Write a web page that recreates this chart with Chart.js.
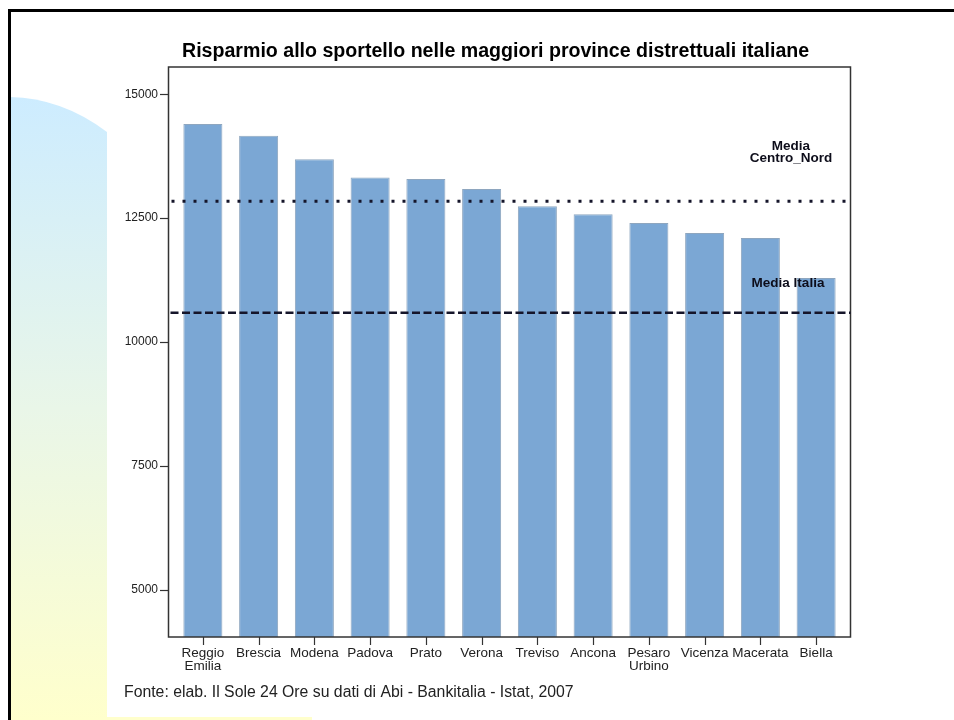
<!DOCTYPE html>
<html>
<head>
<meta charset="utf-8">
<script src="https://cdn.jsdelivr.net/npm/chart.js@4"></script>
<style>
html,body{margin:0;padding:0;background:#fff;}
canvas{display:block;}
</style>
</head>
<body>
<canvas id="c" width="954" height="720"></canvas>
<script>
const categories = [["Reggio","Emilia"],"Brescia","Modena","Padova","Prato","Verona","Treviso","Ancona",["Pesaro","Urbino"],"Vicenza","Macerata","Biella"];
const values = [14400,14160,13690,13320,13290,13090,12740,12580,12400,12200,12100,11290];
const mediaCentroNord = 12840;
const mediaItalia = 10590;
const yTicks = [5000,7500,10000,12500,15000];
const titleText = "Risparmio allo sportello nelle maggiori province distrettuali italiane";
const sourceText = "Fonte: elab. Il Sole 24 Ore su dati di Abi - Bankitalia - Istat, 2007";
const refLabels = {centroNord:["Media","Centro_Nord"], italia:"Media Italia"};

const FONT = "'Liberation Sans', Arial, sans-serif";

const decor = {
  id:'decor',
  beforeDraw(chart){
    const ctx = chart.ctx;
    ctx.save();
    ctx.fillStyle='#fff';
    ctx.fillRect(0,0,chart.width,chart.height);
    const g = ctx.createLinearGradient(0,97,0,720);
    g.addColorStop(0,'#cdecff');
    g.addColorStop(0.5,'#e9f6e8');
    g.addColorStop(1,'#ffffcc');
    ctx.fillStyle=g;
    ctx.beginPath();
    ctx.moveTo(10,720);
    ctx.lineTo(10,97);
    ctx.quadraticCurveTo(62,98,107,132);
    ctx.lineTo(107,720);
    ctx.closePath();
    ctx.fill();
    ctx.fillStyle='#ffffcc';
    ctx.fillRect(107,717,205,3);
    ctx.fillStyle='#000';
    ctx.fillRect(8,9,946,3);
    ctx.fillRect(8,9,3,711);
    ctx.restore();
  },
  afterDraw(chart){
    const ctx = chart.ctx;
    const a = chart.chartArea;
    const y = chart.scales.y, x = chart.scales.x;
    const L = a.left-6.5, R = a.right+6.5;
    ctx.save();
    ctx.strokeStyle='#333';
    ctx.lineWidth=1.5;
    ctx.strokeRect(L,a.top,R-L,a.bottom-a.top);
    ctx.lineWidth=1.2;
    y.ticks.forEach(t=>{
      const p = Math.round(y.getPixelForValue(t.value))+0.5;
      ctx.beginPath();ctx.moveTo(160,p);ctx.lineTo(L,p);ctx.stroke();
    });
    categories.forEach((c,i)=>{
      const p = Math.round(x.getPixelForValue(i))+0.5;
      ctx.beginPath();ctx.moveTo(p,a.bottom);ctx.lineTo(p,a.bottom+8);ctx.stroke();
    });
    const pc = y.getPixelForValue(mediaCentroNord);
    const pi = y.getPixelForValue(mediaItalia);
    ctx.strokeStyle='#15152a';
    ctx.lineWidth=3;
    ctx.setLineDash([3,8]);
    ctx.beginPath();ctx.moveTo(L+3,pc);ctx.lineTo(R,pc);ctx.stroke();
    ctx.lineWidth=2.5;
    ctx.setLineDash([8,3.5]);
    ctx.beginPath();ctx.moveTo(L+2,pi);ctx.lineTo(R,pi);ctx.stroke();
    ctx.setLineDash([]);
    ctx.fillStyle='#0d0d1a';
    ctx.font="bold 13.5px "+FONT;
    ctx.textAlign='center';
    ctx.textBaseline='alphabetic';
    ctx.fillText(refLabels.centroNord[0],791,pc-51);
    ctx.fillText(refLabels.centroNord[1],791,pc-39);
    ctx.fillText(refLabels.italia,788,pi-26);
    ctx.fillStyle='#000';
    ctx.textAlign='left';
    ctx.font="bold 19.6px "+FONT;
    ctx.fillText(titleText,182,57);
    ctx.fillStyle='#222';
    ctx.font="15.8px "+FONT;
    ctx.fillText(sourceText,124,697);
    ctx.restore();
  }
};

new Chart(document.getElementById('c'),{
  type:'bar',
  data:{
    labels:categories,
    datasets:[{
      data:values,
      backgroundColor:'#7ba7d4',
      borderColor:'#8ea6bf',
      borderWidth:1,
      categoryPercentage:1,
      barPercentage:0.7
    }]
  },
  options:{
    responsive:false,
    devicePixelRatio:1,
    animation:false,
    layout:{padding:{left:0,right:110,top:67,bottom:0}},
    plugins:{legend:{display:false},tooltip:{enabled:false},title:{display:false}},
    scales:{
      x:{
        grid:{display:false,drawTicks:false},
        border:{display:false},
        ticks:{autoSkip:false,maxRotation:0,minRotation:0,padding:10,color:'#222',
          font:{family:FONT,size:13.5,lineHeight:0.93}},
        afterFit(s){s.height=83;}
      },
      y:{
        min:4045,max:15550,
        grid:{display:false,drawTicks:false},
        border:{display:false},
        afterBuildTicks(s){s.ticks=yTicks.map(v=>({value:v}));},
        ticks:{padding:17,color:'#222',font:{family:FONT,size:12},callback:(v)=>String(v)},
        afterFit(s){s.width=175;}
      }
    }
  },
  plugins:[decor]
});
</script>
</body>
</html>
